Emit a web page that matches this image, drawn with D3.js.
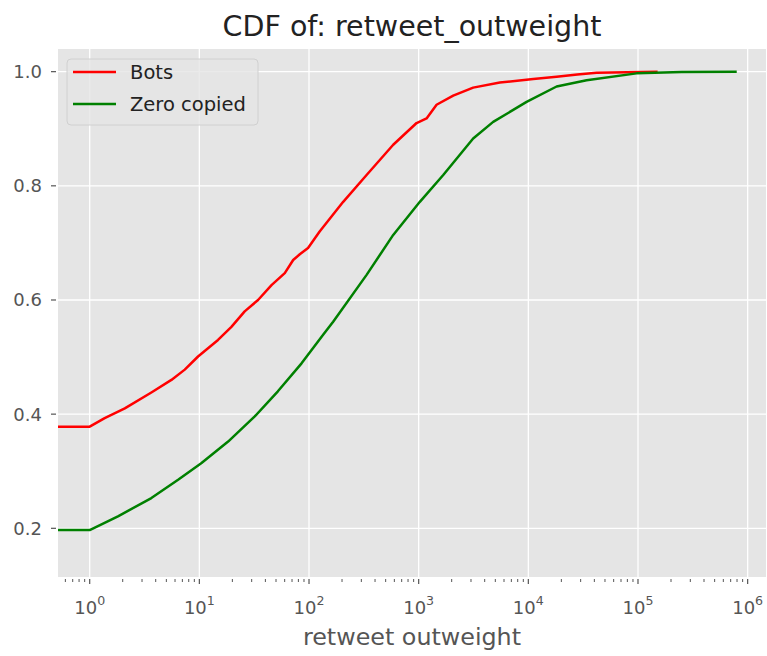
<!DOCTYPE html>
<html>
<head>
<meta charset="utf-8">
<script src="https://cdn.jsdelivr.net/npm/d3@7"></script>
<style>
  body { margin: 0; background: #fff; }
  text { font-family: "DejaVu Sans", sans-serif; }
</style>
</head>
<body>
<div id="chart"></div>
<script>
// CDF data
let botsX = [0.5, 1, 1.37, 2.09, 3.65, 5.56, 7.36, 9.73, 14.8, 19.6, 25.9, 34.3, 45.5, 60.1, 71.7, 82.4, 98, 125, 205, 335, 586, 957, 1180, 1456, 2065, 3140, 5500, 11100, 18100, 28000, 42000, 151000];
let botsY = [0.378, 0.378, 0.393, 0.410, 0.438, 0.460, 0.478, 0.501, 0.530, 0.553, 0.580, 0.600, 0.626, 0.647, 0.670, 0.680, 0.691, 0.720, 0.772, 0.819, 0.872, 0.910, 0.918, 0.942, 0.958, 0.972, 0.981, 0.987, 0.991, 0.995, 0.998, 1.0];

let zeroX = [0.5, 1, 1.81, 3.65, 6.4, 10.4, 18.3, 32, 52, 85.5, 134.5, 166, 335, 586, 1025, 1675, 3140, 4780, 9640, 18100, 34000, 97000, 250000, 795000];
let zeroY = [0.197, 0.197, 0.221, 0.253, 0.285, 0.314, 0.352, 0.396, 0.440, 0.489, 0.539, 0.562, 0.644, 0.714, 0.772, 0.819, 0.883, 0.912, 0.947, 0.974, 0.985, 0.997, 0.9995, 1.0];

let yTicks = [0.2, 0.4, 0.6, 0.8, 1.0];
let xTicks = [1, 10, 100, 1000, 10000, 100000, 1000000];
let seriesNames = ["Bots", "Zero copied"];
let seriesColors = ["red", "green"];

let svgWidth = 767;
let svgHeight = 656;
let margin = { top: 49, right: 1, bottom: 79, left: 58 };
let chartWidth = svgWidth - margin.left - margin.right;
let chartHeight = svgHeight - margin.top - margin.bottom;

let svg = d3.select("#chart")
  .append("svg")
  .attr("width", svgWidth)
  .attr("height", svgHeight);

let chartGroup = svg.append("g")
  .attr("transform", `translate(${margin.left}, ${margin.top})`);

let xScale = d3.scaleLog()
  .domain([0.514, 1.47e6])
  .range([0, chartWidth]);

let yScale = d3.scaleLinear()
  .domain([0.1147, 1.0397])
  .range([chartHeight, 0]);

// background
chartGroup.append("rect")
  .attr("width", chartWidth)
  .attr("height", chartHeight)
  .attr("fill", "#e5e5e5");

// grid
chartGroup.selectAll(".xgrid")
  .data(xTicks)
  .enter().append("line")
  .attr("x1", d => xScale(d)).attr("x2", d => xScale(d))
  .attr("y1", 0).attr("y2", chartHeight)
  .attr("stroke", "white").attr("stroke-width", 1.3);

chartGroup.selectAll(".ygrid")
  .data(yTicks)
  .enter().append("line")
  .attr("y1", d => yScale(d)).attr("y2", d => yScale(d))
  .attr("x1", 0).attr("x2", chartWidth)
  .attr("stroke", "white").attr("stroke-width", 1.3);

// minor ticks on x
let minorTicks = [];
for (let e = -1; e <= 6; e++) {
  for (let m = 2; m <= 9; m++) {
    let v = m * Math.pow(10, e);
    if (v >= xScale.domain()[0] && v <= xScale.domain()[1]) minorTicks.push(v);
  }
}

let axisColor = "#555555";

chartGroup.selectAll(".minor")
  .data(minorTicks)
  .enter().append("line")
  .attr("x1", d => xScale(d)).attr("x2", d => xScale(d))
  .attr("y1", chartHeight + 2).attr("y2", chartHeight + 5)
  .attr("stroke", axisColor).attr("stroke-width", 1);

chartGroup.selectAll(".major")
  .data(xTicks)
  .enter().append("line")
  .attr("x1", d => xScale(d)).attr("x2", d => xScale(d))
  .attr("y1", chartHeight + 2).attr("y2", chartHeight + 7)
  .attr("stroke", axisColor).attr("stroke-width", 1.2);

// x tick labels as 10^n
let xLabels = chartGroup.selectAll(".xlab")
  .data(xTicks)
  .enter().append("text")
  .attr("x", d => xScale(d))
  .attr("y", chartHeight + 37)
  .attr("text-anchor", "middle")
  .attr("font-size", "18px")
  .attr("fill", axisColor);

xLabels.append("tspan").text("10");
xLabels.append("tspan")
  .attr("dy", -9)
  .attr("font-size", "12.6px")
  .text(d => Math.round(Math.log10(d)));

// y ticks
chartGroup.selectAll(".ytick")
  .data(yTicks)
  .enter().append("line")
  .attr("x1", -7).attr("x2", -2)
  .attr("y1", d => yScale(d)).attr("y2", d => yScale(d))
  .attr("stroke", axisColor).attr("stroke-width", 1.2);

chartGroup.selectAll(".ylab")
  .data(yTicks)
  .enter().append("text")
  .attr("x", -16)
  .attr("y", d => yScale(d))
  .attr("dy", "0.36em")
  .attr("text-anchor", "end")
  .attr("font-size", "18px")
  .attr("fill", axisColor)
  .text(d => d.toFixed(1));

// lines
let clip = svg.append("defs").append("clipPath").attr("id", "plotclip");
clip.append("rect").attr("width", chartWidth).attr("height", chartHeight);

let line = d3.line()
  .x(d => xScale(d[0]))
  .y(d => yScale(d[1]));

let series = [
  d3.zip(botsX, botsY),
  d3.zip(zeroX, zeroY)
];

chartGroup.append("g")
  .attr("clip-path", "url(#plotclip)")
  .selectAll("path")
  .data(series)
  .enter().append("path")
  .attr("d", line)
  .attr("fill", "none")
  .attr("stroke", (d, i) => seriesColors[i])
  .attr("stroke-width", 2.5)
  .attr("stroke-linejoin", "round");

// legend
let legend = chartGroup.append("g")
  .attr("transform", "translate(9, 10)");

legend.append("rect")
  .attr("width", 191)
  .attr("height", 66)
  .attr("rx", 4)
  .attr("fill", "#e5e5e5")
  .attr("fill-opacity", 0.8)
  .attr("stroke", "#d0d0d0");

seriesNames.forEach(function(name, i) {
  let yy = 13 + i * 32;
  legend.append("line")
    .attr("x1", 6).attr("x2", 49)
    .attr("y1", yy).attr("y2", yy)
    .attr("stroke", seriesColors[i])
    .attr("stroke-width", 2.5);
  legend.append("text")
    .attr("x", 63)
    .attr("y", yy)
    .attr("dy", "0.36em")
    .attr("font-size", "19.5px")
    .attr("fill", "#222")
    .text(name);
});

// title
svg.append("text")
  .attr("x", margin.left + chartWidth / 2)
  .attr("y", 36)
  .attr("text-anchor", "middle")
  .attr("font-size", "28.5px")
  .attr("fill", "#222")
  .text("CDF of: retweet_outweight");

// x axis label
svg.append("text")
  .attr("x", margin.left + chartWidth / 2)
  .attr("y", 645)
  .attr("text-anchor", "middle")
  .attr("font-size", "23.8px")
  .attr("fill", axisColor)
  .text("retweet outweight");
</script>
</body>
</html>
